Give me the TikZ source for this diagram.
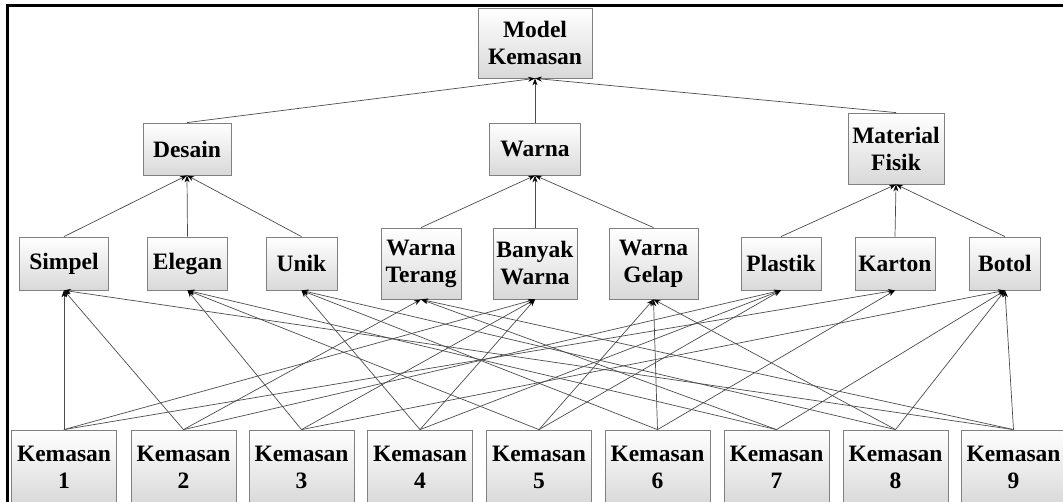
\documentclass[tikz,border=0pt]{standalone}
\usepackage{fontspec}
\setmainfont{Liberation Serif}
\usetikzlibrary{arrows.meta}
\tikzset{
  box/.style={draw=black!50, line width=0.8pt, top color=white, bottom color=black!15, align=center, inner sep=0pt, font=\bfseries\fontsize{23.5}{27}\selectfont},
  link/.style={draw=black!70, line width=0.7pt, -{Stealth[length=7pt,width=5pt,black]}}
}
\begin{document}
\begin{tikzpicture}[x=1pt,y=-1pt]

\useasboundingbox (0,0) rectangle (1063,502);
\begin{scope}
\clip (0,0) rectangle (1063,502);
\draw[black, line width=3pt] (7.5,560) -- (7.5,5.5) -- (1100,5.5);

\node[box, minimum width=114pt, minimum height=70pt] (model) at (535,43) {Model\\Kemasan};

\node[box, minimum width=88pt, minimum height=52pt] (desain) at (187,149) {Desain};
\node[box, minimum width=91pt, minimum height=52pt] (warna) at (535,149) {Warna};
\node[box, minimum width=96pt, minimum height=71pt] (material) at (896,148.5) {Material\\Fisik};

\node[box, minimum width=89pt, minimum height=53pt] (simpel) at (64,263.5) {Simpel};
\node[box, minimum width=80pt, minimum height=53pt] (elegan) at (187.5,263.5) {Elegan};
\node[box, minimum width=71pt, minimum height=53pt] (unik) at (301.5,263.5) {Unik};
\node[box, minimum width=80pt, minimum height=71pt] (terang) at (421,263.5) {Warna\\Terang};
\node[box, minimum width=84pt, minimum height=71pt] (banyak) at (535,263.5) {Banyak\\Warna};
\node[box, minimum width=89pt, minimum height=71pt] (gelap) at (653.5,263.5) {Warna\\Gelap};
\node[box, minimum width=80pt, minimum height=53pt] (plastik) at (781,263.5) {Plastik};
\node[box, minimum width=80pt, minimum height=53pt] (karton) at (895,263.5) {Karton};
\node[box, minimum width=71pt, minimum height=53pt] (botol) at (1005,263.5) {Botol};

\node[box, minimum width=105pt, minimum height=74pt] (kem1) at (64,467) {Kemasan\\1};
\node[box, minimum width=105pt, minimum height=74pt] (kem2) at (183.5,467) {Kemasan\\2};
\node[box, minimum width=105pt, minimum height=74pt] (kem3) at (301.5,467) {Kemasan\\3};
\node[box, minimum width=105pt, minimum height=74pt] (kem4) at (420,467) {Kemasan\\4};
\node[box, minimum width=105pt, minimum height=74pt] (kem5) at (539,467) {Kemasan\\5};
\node[box, minimum width=105pt, minimum height=74pt] (kem6) at (657.5,467) {Kemasan\\6};
\node[box, minimum width=105pt, minimum height=74pt] (kem7) at (776.5,467) {Kemasan\\7};
\node[box, minimum width=105pt, minimum height=74pt] (kem8) at (895.5,467) {Kemasan\\8};
\node[box, minimum width=105pt, minimum height=74pt] (kem9) at (1013.5,467) {Kemasan\\9};

\draw[link] (desain.north) -- (model.south);
\draw[link] (warna.north) -- (model.south);
\draw[link] (material.north) -- (model.south);

\draw[link] (simpel.north) -- (desain.south);
\draw[link] (elegan.north) -- (desain.south);
\draw[link] (unik.north) -- (desain.south);
\draw[link] (terang.north) -- (warna.south);
\draw[link] (banyak.north) -- (warna.south);
\draw[link] (gelap.north) -- (warna.south);
\draw[link] (plastik.north) -- (material.south);
\draw[link] (karton.north) -- (material.south);
\draw[link] (botol.north) -- (material.south);

\draw[link] (kem1.north) -- (simpel.south);
\draw[link] (kem1.north) -- (banyak.south);
\draw[link] (kem1.north) -- (karton.south);
\draw[link] (kem2.north) -- (simpel.south);
\draw[link] (kem2.north) -- (terang.south);
\draw[link] (kem2.north) -- (plastik.south);
\draw[link] (kem3.north) -- (elegan.south);
\draw[link] (kem3.north) -- (banyak.south);
\draw[link] (kem3.north) -- (botol.south);
\draw[link] (kem4.north) -- (unik.south);
\draw[link] (kem4.north) -- (banyak.south);
\draw[link] (kem4.north) -- (plastik.south);
\draw[link] (kem5.north) -- (elegan.south);
\draw[link] (kem5.north) -- (gelap.south);
\draw[link] (kem5.north) -- (plastik.south);
\draw[link] (kem6.north) -- (unik.south);
\draw[link] (kem6.north) -- (gelap.south);
\draw[link] (kem6.north) -- (karton.south);
\draw[link] (kem7.north) -- (elegan.south);
\draw[link] (kem7.north) -- (terang.south);
\draw[link] (kem7.north) -- (botol.south);
\draw[link] (kem8.north) -- (unik.south);
\draw[link] (kem8.north) -- (gelap.south);
\draw[link] (kem8.north) -- (botol.south);
\draw[link] (kem9.north) -- (simpel.south);
\draw[link] (kem9.north) -- (terang.south);
\draw[link] (kem9.north) -- (botol.south);
\end{scope}

\end{tikzpicture}
\end{document}
